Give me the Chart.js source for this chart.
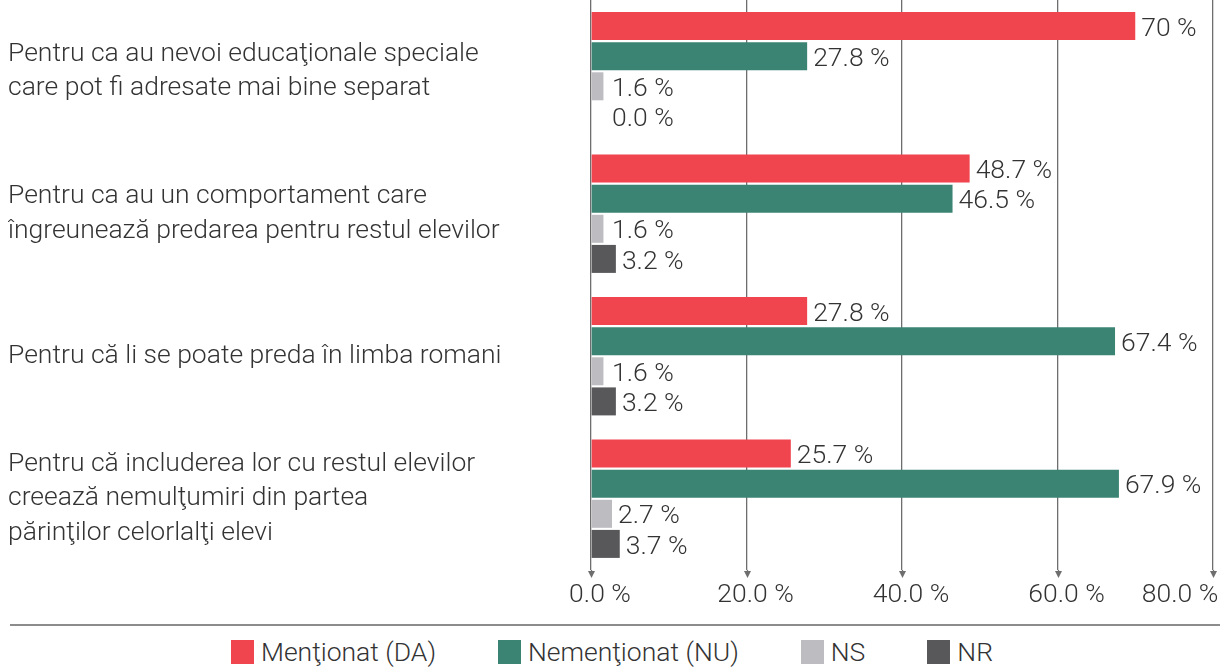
<!DOCTYPE html>
<html>
<head>
<meta charset="utf-8">
<script src="https://cdn.jsdelivr.net/npm/chart.js@4.4.1/dist/chart.umd.min.js"></script>
<style>
  html, body { margin: 0; padding: 0; background: #fff; }
  #wrap { width: 1224px; height: 668px; position: relative; overflow: hidden; font-family: Roboto, sans-serif; }
  #chartBox { width: 1224px; height: 620px; position: relative; }
  #sep { position: absolute; left: 10px; top: 624px; width: 1210px; border-top: 2px solid #8c8c8c; }
  #legend { position: absolute; left: 0; top: 638px; width: 1224px; display: flex; justify-content: center; gap: 62px; padding-left: 0;
            font-size: 26.5px; font-weight: 300; color: #333; line-height: 28px; }
  .item { display: flex; align-items: center; gap: 7px; }
  .swatch { width: 23px; height: 24px; display: inline-block; }
</style>
</head>
<body>
<div id="wrap">
  <div id="chartBox"><canvas id="reasons"></canvas></div>
  <div id="sep"></div>
  <div id="legend"></div>
</div>
<script>
// categories (y axis)
const categories = [
  ['Pentru ca au nevoi educaţionale speciale', 'care pot fi adresate mai bine separat'],
  ['Pentru ca au un comportament care', 'îngreunează predarea pentru restul elevilor'],
  'Pentru că li se poate preda în limba romani',
  ['Pentru că includerea lor cu restul elevilor', 'creează nemulţumiri din partea', 'părinţilor celorlalţi elevi']
];

// series values (%)
const mentionatDA   = [70, 48.7, 27.8, 25.7];
const nementionatNU = [27.8, 46.5, 67.4, 67.9];
const nsValues      = [1.6, 1.6, 1.6, 2.7];
const nrValues      = [0.0, 3.2, 3.2, 3.7];

const seriesNames  = ['Menţionat (DA)', 'Nemenţionat (NU)', 'NS', 'NR'];
const seriesColors = ['#f0444f', '#3b8474', '#bdbdc1', '#58585a'];

// x axis ticks
const xTicks = [0, 20, 40, 60, 80];

const textColor = '#333333';
const baseFont = { family: 'Roboto', size: 26.5, weight: '300' };

// value labels after each bar
const barValueLabels = {
  id: 'barValueLabels',
  afterDatasetsDraw(chart) {
    const ctx = chart.ctx;
    const left = chart.chartArea.left;
    ctx.save();
    ctx.font = '300 26.5px Roboto';
    ctx.fillStyle = textColor;
    ctx.textBaseline = 'middle';
    ctx.textAlign = 'left';
    chart.data.datasets.forEach((ds, di) => {
      const meta = chart.getDatasetMeta(di);
      meta.data.forEach((bar, i) => {
        const v = ds.data[i];
        const txt = (di === 0 ? String(v) : v.toFixed(1)) + ' %';
        const x = Math.max(bar.x + 6, left + 21);
        ctx.fillText(txt, x, bar.y + 3);
      });
    });
    ctx.restore();
  }
};

// small arrow heads at the bottom of the vertical grid lines
const gridArrows = {
  id: 'gridArrows',
  afterDraw(chart) {
    const ctx = chart.ctx;
    const xs = chart.scales.x;
    const bottom = chart.chartArea.bottom;
    ctx.save();
    ctx.strokeStyle = '#6e6e6e';
    ctx.fillStyle = '#6e6e6e';
    ctx.lineWidth = 1.3;
    xTicks.forEach(t => {
      const px = Math.round(xs.getPixelForValue(t)) + 0.5;
      ctx.beginPath();
      ctx.moveTo(px, bottom);
      ctx.lineTo(px, bottom + 3);
      ctx.stroke();
      ctx.beginPath();
      ctx.moveTo(px - 3.5, bottom + 1);
      ctx.lineTo(px + 3.5, bottom + 1);
      ctx.lineTo(px, bottom + 8);
      ctx.closePath();
      ctx.fill();
    });
    ctx.restore();
  }
};

const datasets = [mentionatDA, nementionatNU, nsValues, nrValues].map((vals, i) => ({
  label: seriesNames[i],
  data: vals,
  backgroundColor: seriesColors[i],
  borderWidth: 0,
  categoryPercentage: 0.845,
  barPercentage: 0.93
}));

const config = {
  type: 'bar',
  data: { labels: categories, datasets: datasets },
  options: {
    indexAxis: 'y',
    responsive: false,
    animation: false,
    maintainAspectRatio: false,
    layout: { padding: { left: 8, right: 11, top: 0, bottom: 0 } },
    plugins: {
      legend: { display: false },
      tooltip: { enabled: false }
    },
    scales: {
      x: {
        min: 0,
        max: 80,
        afterBuildTicks(scale) { scale.ticks = xTicks.map(v => ({ value: v })); },
        afterFit(scale) { scale.height = 50; scale.paddingRight = 0; scale.paddingLeft = 0; },
        grid: { color: '#6e6e6e', lineWidth: 1.3, drawTicks: false },
        border: { display: false },
        ticks: {
          padding: 9,
          labelOffset: 9,
          maxRotation: 0,
          minRotation: 0,
          autoSkip: false,
          color: textColor,
          font: baseFont,
          callback: (v) => v === 80 ? '80.0 %' + '\u00a0'.repeat(13) : v.toFixed(1) + ' %'
        }
      },
      y: {
        afterFit(scale) { scale.width = 583; scale.paddingTop = 0; scale.paddingBottom = 0; },
        grid: { display: false, drawTicks: false },
        border: { display: false },
        ticks: {
          crossAlign: 'far',
          color: textColor,
          font: { family: 'Roboto', size: 26.5, weight: '300', lineHeight: 1.3 }
        }
      }
    }
  },
  plugins: [barValueLabels, gridArrows]
};

const canvas = document.getElementById('reasons');
canvas.width = 1224;
canvas.height = 620;
const reasonsChart = new Chart(canvas, config);

// legend below the separator line
const legendBox = document.getElementById('legend');
seriesNames.forEach((name, i) => {
  const item = document.createElement('div');
  item.className = 'item';
  item.innerHTML = `<span class="swatch" style="background:${seriesColors[i]}"></span><span>${name}</span>`;
  legendBox.appendChild(item);
});
</script>
</body>
</html>
